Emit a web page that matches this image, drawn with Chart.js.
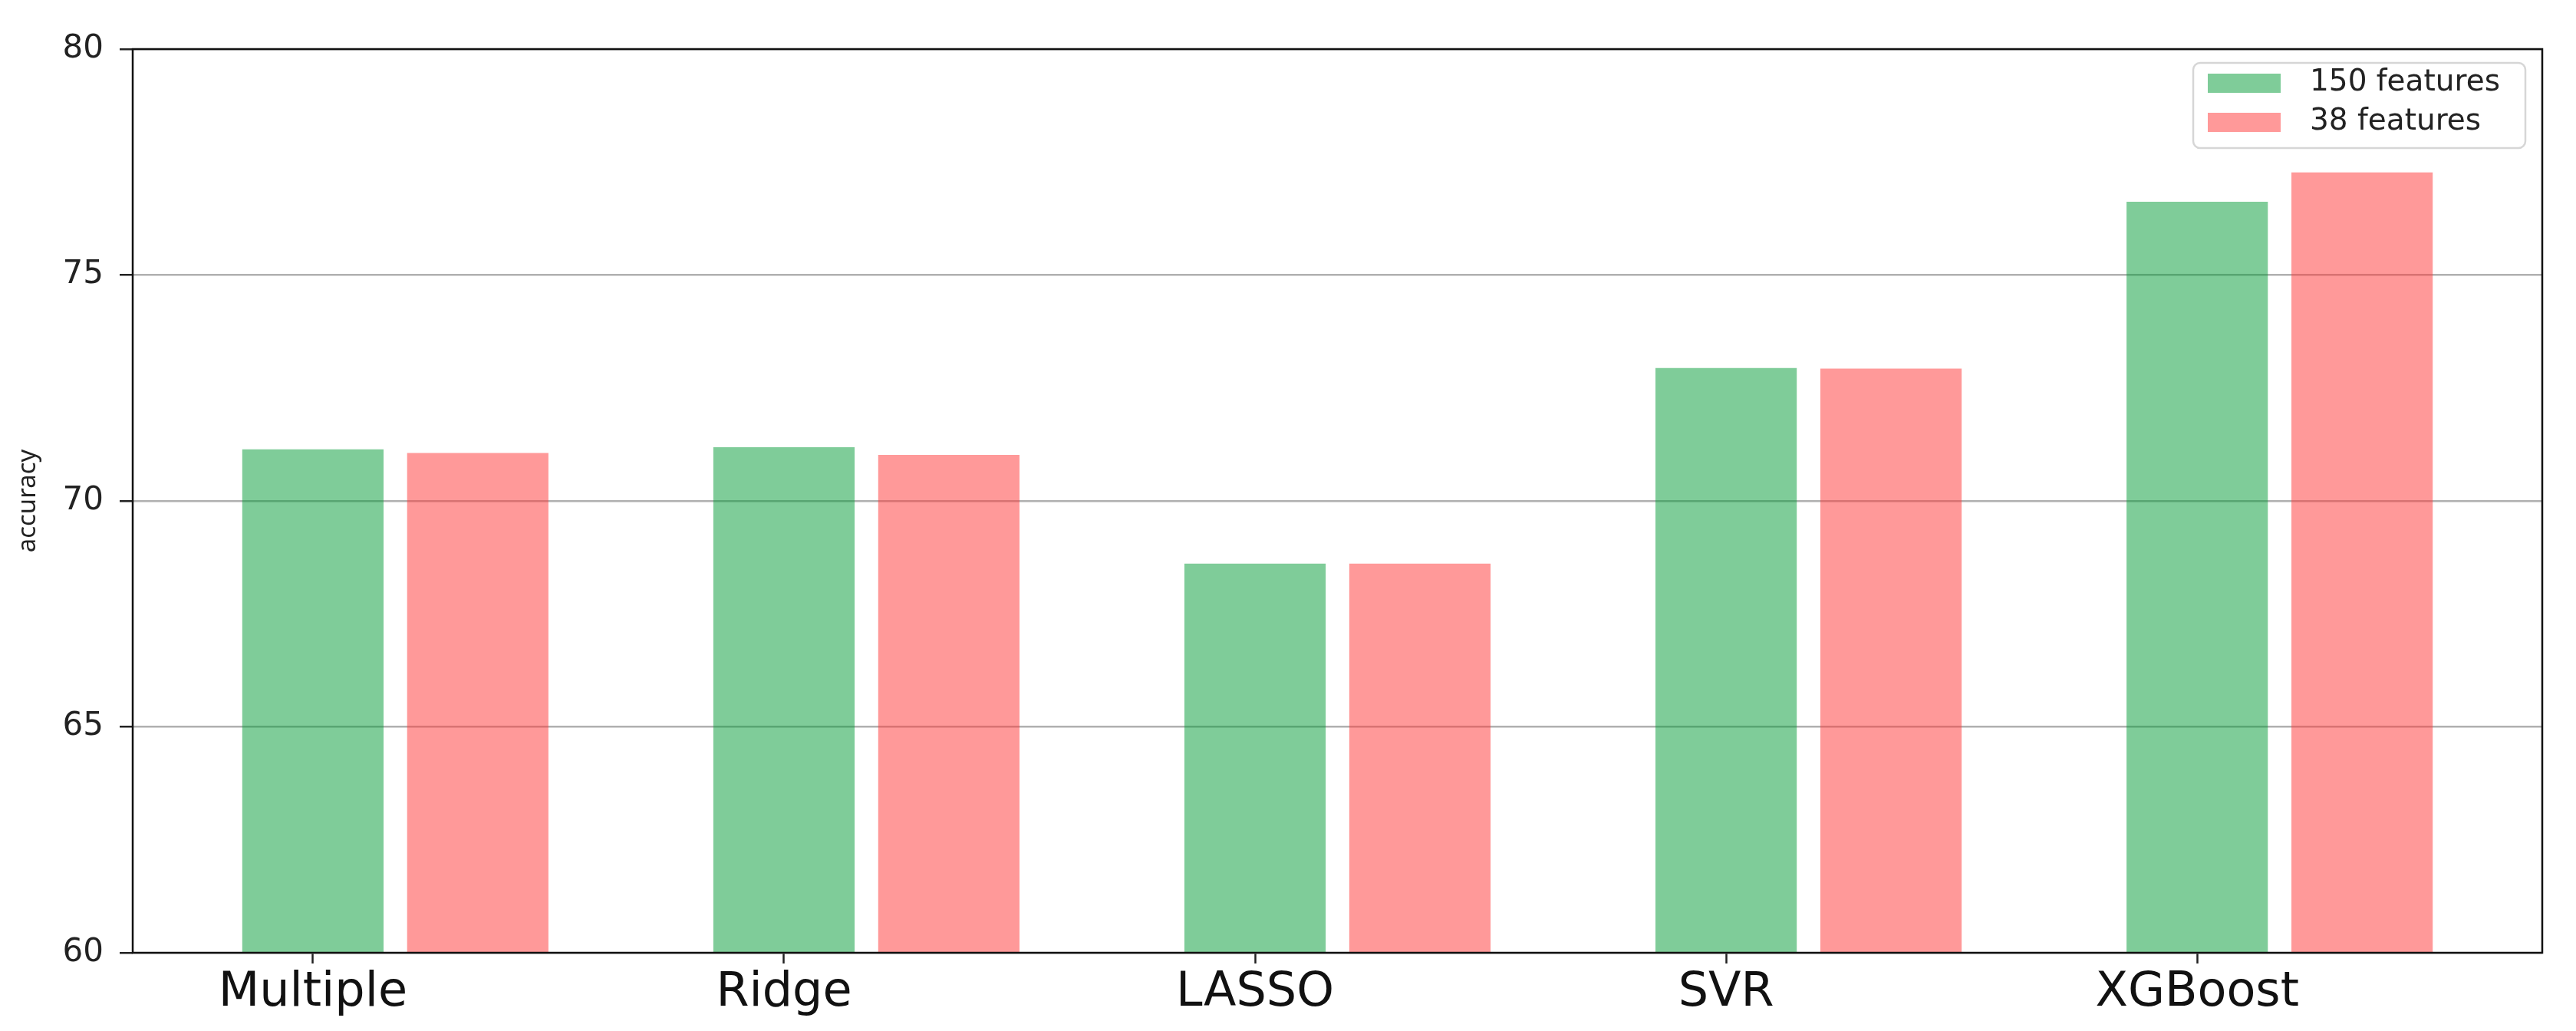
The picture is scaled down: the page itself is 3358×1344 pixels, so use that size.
<!DOCTYPE html>
<html>
<head>
<meta charset="utf-8">
<script src="https://cdn.jsdelivr.net/npm/chart.js@4.4.1/dist/chart.umd.min.js"></script>
<style>
    html, body { margin: 0; padding: 0; background: #fff; }
    #wrap { width: 3358px; height: 1344px; position: relative; }
</style>
</head>
<body>
<div id="wrap"><canvas id="myChart"></canvas></div>
<script>
const models = ["Multiple", "Ridge", "LASSO", "SVR", "XGBoost"];
const acc150 = [71.14, 71.19, 68.61, 72.94, 76.62];
const acc38 = [71.06, 71.02, 68.61, 72.93, 77.27];
const yTicks = [60, 65, 70, 75, 80];

// second bar of each pair sits 0.35 to the right of the tick
const barOffset = 0.35;

// black box round the plot
const frame = {
    id: "frame",
    afterDatasetsDraw(chart) {
        const { ctx, chartArea: a } = chart;
        ctx.save();
        ctx.strokeStyle = "#111";
        ctx.lineWidth = 2.5;
        ctx.strokeRect(a.left, a.top, a.right - a.left, a.bottom - a.top);
        ctx.restore();
    },
};

// legend drawn inside the plot, top right
const boxLegend = {
    id: "boxLegend",
    afterDraw(chart) {
        const { ctx, chartArea: a } = chart;
        const w = 433;
        const h = 111;
        const left = a.right - 22 - w;
        const top = a.top + 18;
        ctx.save();
        ctx.fillStyle = "rgba(255, 255, 255, 0.8)";
        ctx.strokeStyle = "#d6d6d6";
        ctx.lineWidth = 2.5;
        ctx.beginPath();
        ctx.roundRect(left, top, w, h, 9);
        ctx.fill();
        ctx.stroke();
        ctx.font = "39px 'DejaVu Sans'";
        ctx.textBaseline = "middle";
        chart.data.datasets.forEach((ds, i) => {
            const cy = top + 26 + i * 51;
            ctx.fillStyle = ds.backgroundColor;
            ctx.fillRect(left + 19, cy - 12, 95, 25);
            ctx.fillStyle = "#222";
            ctx.fillText(ds.label, left + 152, cy);
        });
        ctx.restore();
    },
};

const ctx = document.getElementById("myChart");
const myChart = new Chart(ctx, {
    type: "bar",
    data: {
        datasets: [
            {
                label: "150 features",
                data: acc150.map((v, i) => ({ x: i, y: v })),
                backgroundColor: "rgba(0, 153, 51, 0.5)",
            },
            {
                label: "38 features",
                data: acc38.map((v, i) => ({ x: i + barOffset, y: v })),
                backgroundColor: "rgba(255, 51, 51, 0.5)",
            },
        ],
    },
    options: {
        responsive: true,
        maintainAspectRatio: false,
        animation: false,
        datasets: {
            bar: {
                grouped: false,
                categoryPercentage: 1,
                barPercentage: 0.857,
            },
        },
        layout: { padding: { top: 64, right: 44, left: 0, bottom: 0 } },
        plugins: {
            legend: { display: false },
            tooltip: { enabled: false },
        },
        scales: {
            x: {
                type: "linear",
                offset: false,
                bounds: "data",
                min: -0.3825,
                max: 4.7325,
                afterBuildTicks: (axis) => {
                    axis.ticks = models.map((m, i) => ({ value: i }));
                },
                afterFit: (axis) => {
                    axis.height = 102;
                },
                ticks: {
                    callback: (v) => models[v],
                    autoSkip: false,
                    maxRotation: 0,
                    padding: 2,
                    color: "#111",
                    font: { family: "DejaVu Sans", size: 62 },
                },
                grid: {
                    display: true,
                    offset: false,
                    drawOnChartArea: false,
                    drawTicks: true,
                    tickLength: 14,
                    tickColor: "#222",
                    tickWidth: 2.5,
                },
                border: { display: false },
            },
            y: {
                min: 60,
                max: 80,
                afterBuildTicks: (axis) => {
                    axis.ticks = yTicks.map((v) => ({ value: v }));
                },
                afterFit: (axis) => {
                    axis.width = 173;
                },
                ticks: {
                    padding: 21,
                    color: "#222",
                    font: { family: "DejaVu Sans", size: 42 },
                },
                grid: {
                    color: "#b0b0b0",
                    lineWidth: 2.5,
                    tickLength: 17,
                    tickColor: "#222",
                    tickWidth: 2.5,
                },
                border: { display: false },
                title: {
                    display: true,
                    text: "accuracy",
                    color: "#222",
                    font: { family: "Noto Sans", size: 33 },
                    padding: { top: 17, bottom: 0 },
                },
            },
        },
    },
    plugins: [frame, boxLegend],
});
</script>
</body>
</html>
